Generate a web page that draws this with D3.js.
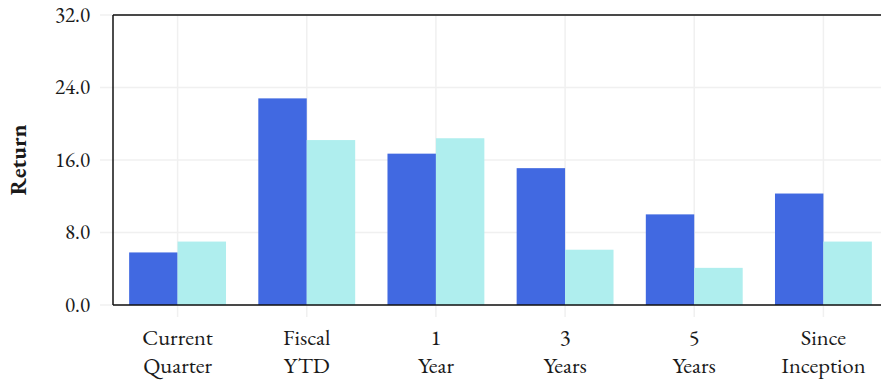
<!DOCTYPE html>
<html><head><meta charset="utf-8">
<script src="https://cdn.jsdelivr.net/npm/d3@7"></script>
<style>
body{margin:0;background:#fff;}
</style></head>
<body><svg id="c" width="881" height="381"></svg>
<script>
const categories = [["Current","Quarter"],["Fiscal","YTD"],["1","Year"],["3","Years"],["5","Years"],["Since","Inception"]];
const seriesA = [5.8, 22.8, 16.7, 15.1, 10.0, 12.3];
const seriesB = [7.0, 18.2, 18.4, 6.1, 4.1, 7.0];
const yTicks = [0, 8, 16, 24, 32];
const colors = ["#4169e1", "#afeeee"];

(function(){
const svg = d3.select("#c");
const FONT = "'EB Garamond', 'Liberation Serif', serif";
const pL = 113, pR = 888, pT = 15, pB = 305;
const x = d3.scaleBand().domain(d3.range(categories.length)).range([pL, pR]).paddingInner(0.25).paddingOuter(0.125);
const xs = d3.scaleBand().domain([0,1]).range([0, x.bandwidth()]);
const y = d3.scaleLinear().domain([0, 32]).range([pB, pT]);

// grid
const g = svg.append("g");
g.selectAll(".hg").data(yTicks).enter().append("line")
  .attr("x1", 100).attr("x2", 881).attr("y1", d => y(d)).attr("y2", d => y(d))
  .attr("stroke", "#f0f0f0").attr("stroke-width", 1.5);
g.selectAll(".vg").data(categories).enter().append("line")
  .attr("x1", (d,i) => x(i) + x.bandwidth()/2).attr("x2", (d,i) => x(i) + x.bandwidth()/2)
  .attr("y1", pT).attr("y2", pB + 12)
  .attr("stroke", "#f0f0f0").attr("stroke-width", 1.5);

// bars
[seriesA, seriesB].forEach((s, k) => {
  svg.append("g").selectAll("rect").data(s).enter().append("rect")
    .attr("x", (d,i) => x(i) + xs(k)).attr("width", xs.bandwidth())
    .attr("y", d => y(d)).attr("height", d => y(0) - y(d))
    .attr("fill", colors[k]);
});

// axes lines
svg.append("line").attr("x1", pL).attr("x2", pL).attr("y1", pT).attr("y2", pB).attr("stroke", "#111").attr("stroke-width", 1.5);
svg.append("line").attr("x1", pL).attr("x2", 881).attr("y1", pB).attr("y2", pB).attr("stroke", "#111").attr("stroke-width", 1.5);
svg.append("line").attr("x1", pL).attr("x2", 881).attr("y1", pT).attr("y2", pT).attr("stroke", "#111").attr("stroke-width", 1.5);

// y tick labels
svg.append("g").selectAll("text").data(yTicks).enter().append("text")
  .style("font-family", FONT).style("fill", "#1a1a1a").style("font-size", "21px")
  .attr("x", 90).attr("y", d => y(d)).attr("dy", "0.33em").attr("text-anchor", "end")
  .text(d => d.toFixed(1));

// x labels
const xl = svg.append("g").selectAll("text").data(categories).enter().append("text")
  .style("font-family", FONT).style("fill", "#1a1a1a").style("font-size", "22.5px")
  .attr("text-anchor", "middle");
xl.each(function(d, i){
  const t = d3.select(this);
  const cx = x(i) + x.bandwidth()/2;
  d.forEach((line, j) => t.append("tspan").attr("x", cx).attr("y", 345 + j*28).text(line));
});

// y axis title
svg.append("text").attr("transform", "translate(26," + ((pT+pB)/2) + ") rotate(-90)")
  .style("font-family", FONT).style("fill", "#1a1a1a").style("font-size", "23px").style("font-weight", "bold")
  .attr("text-anchor", "middle").text("Return");
})();
</script></body></html>
